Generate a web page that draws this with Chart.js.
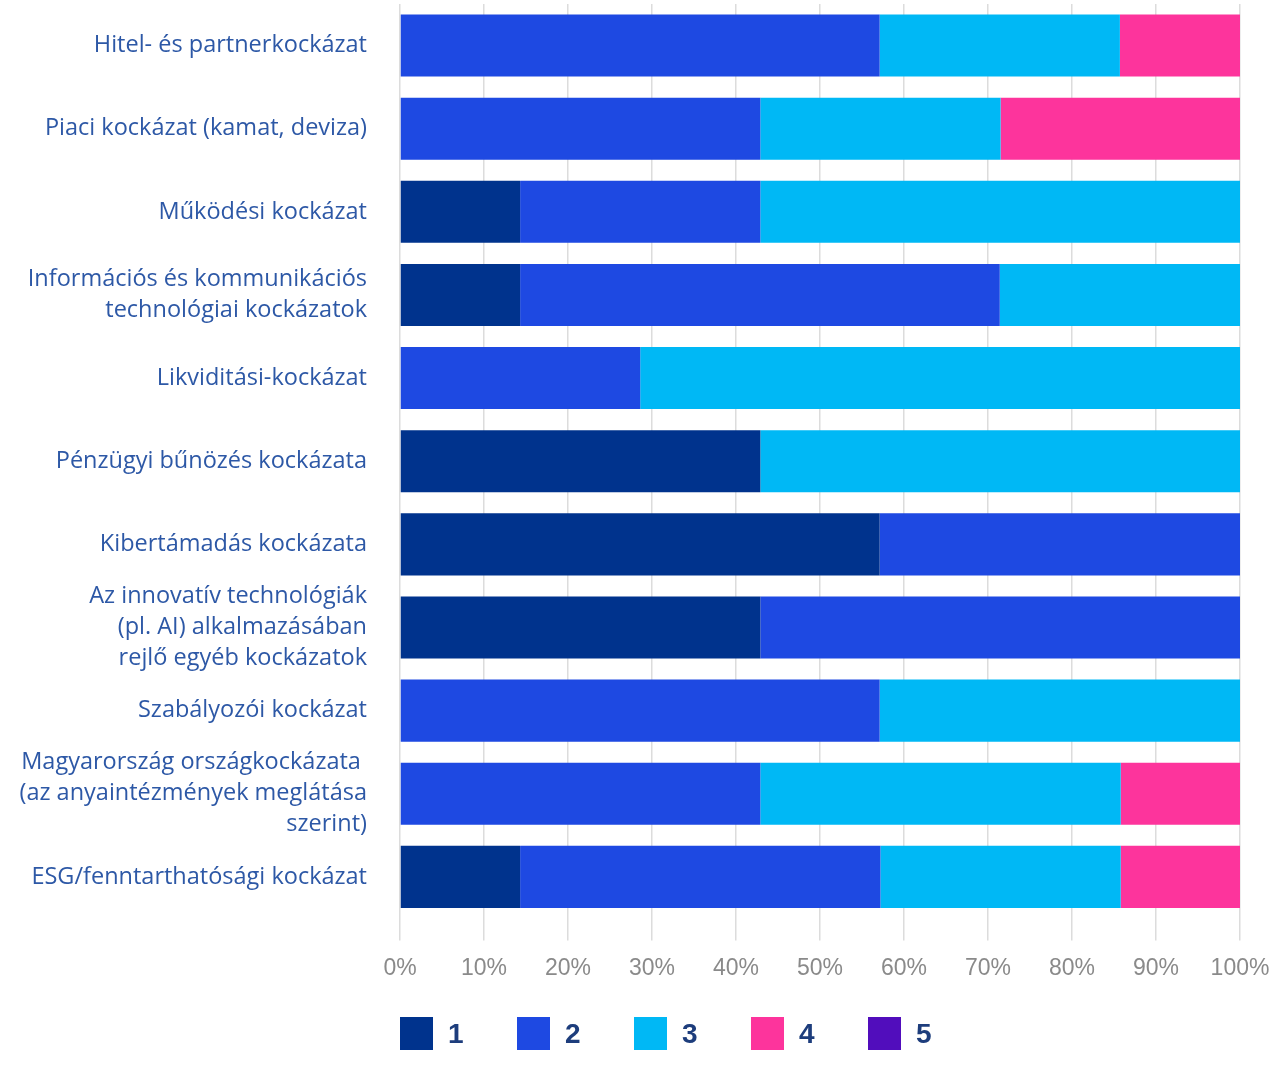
<!DOCTYPE html>
<html>
<head>
<meta charset="utf-8">
<script src="https://cdn.jsdelivr.net/npm/chart.js@4"></script>
<style>
  body { margin: 0; background: #fff; }
  .wrap { position: relative; width: 1280px; height: 1074px; }
  canvas { position: absolute; left: 0; top: 0; }
  .legend { position: absolute; left: 400px; top: 1017px; display: flex; font-family: "Liberation Sans", Arial, sans-serif; }
  .legend .item { display: flex; align-items: center; width: 117px; }
  .legend .box { width: 33px; height: 33px; margin-right: 15px; }
  .legend .txt { font-size: 28px; font-weight: bold; color: #1d3d7c; }
</style>
</head>
<body>
<div class="wrap">
  <canvas id="chart" width="1280" height="1074"></canvas>
  <div class="legend"></div>
</div>
<script>
"use strict";
//---------------- data ----------------
const categories = [
  "Hitel- és partnerkockázat",
  "Piaci kockázat (kamat, deviza)",
  "Működési kockázat",
  ["Információs és kommunikációs", "technológiai kockázatok"],
  "Likviditási-kockázat",
  "Pénzügyi bűnözés kockázata",
  "Kibertámadás kockázata",
  ["Az innovatív technológiák", "(pl. AI) alkalmazásában", "rejlő egyéb kockázatok"],
  "Szabályozói kockázat",
  ["Magyarország országkockázata ", "(az anyaintézmények meglátása", "szerint)"],
  "ESG/fenntarthatósági kockázat"
];
const seriesNames = ["1", "2", "3", "4", "5"];
const seriesColors = ["#00338D", "#1E49E2", "#00B8F5", "#FD349C", "#510DBC"];
const score1 = [0, 0, 14.3, 14.3, 0, 42.9, 57.1, 42.9, 0, 0, 14.3];
const score2 = [57.1, 42.9, 28.6, 57.1, 28.6, 0, 42.9, 57.1, 57.1, 42.9, 42.9];
const score3 = [28.6, 28.6, 57.1, 28.6, 71.4, 57.1, 0, 0, 42.9, 42.9, 28.6];
const score4 = [14.3, 28.6, 0, 0, 0, 0, 0, 0, 0, 14.3, 14.3];
const score5 = [0, 0, 0, 0, 0, 0, 0, 0, 0, 0, 0];
const xTicks = [0, 10, 20, 30, 40, 50, 60, 70, 80, 90, 100];

const allScores = [score1, score2, score3, score4, score5];

//---------------- chart ----------------
let datasets = [];
for (let i = 0; i < seriesNames.length; i++) {
  datasets.push({
    label: seriesNames[i],
    data: allScores[i],
    backgroundColor: seriesColors[i],
    borderWidth: 0,
    barPercentage: 0.747,
    categoryPercentage: 1
  });
}

const ctx = document.getElementById("chart").getContext("2d");
new Chart(ctx, {
  type: "bar",
  data: { labels: categories, datasets: datasets },
  options: {
    indexAxis: "y",
    responsive: false,
    animation: false,
    layout: { padding: { top: 4, right: 40, bottom: 78, left: 0 } },
    plugins: { legend: { display: false }, tooltip: { enabled: false } },
    scales: {
      x: {
        stacked: true,
        min: 0,
        max: 100,
        afterBuildTicks: (scale) => { scale.ticks = xTicks.map(v => ({ value: v })); },
        afterFit: (scale) => {
          scale.paddingLeft = 0;
          scale.paddingRight = 0;
        },
        grid: { color: "#dcdcdc", lineWidth: 1.5, tickLength: 22, tickColor: "#dcdcdc" },
        border: { display: false },
        ticks: {
          color: "#8a8a8a",
          padding: 14,
          maxRotation: 0,
          font: { family: "'Liberation Sans'", size: 23 },
          callback: (v) => v + "%"
        }
      },
      y: {
        stacked: true,
        afterFit: (scale) => {
          scale.width = 400;
          // multi-line labels should not push the plot area in
          scale.paddingTop = 0;
          scale.paddingBottom = 0;
        },
        grid: { display: false, drawTicks: false },
        border: { display: false },
        ticks: {
          autoSkip: false,
          color: "#2d58a6",
          padding: 33,
          font: { family: "'Open Sans'", size: 23.5, lineHeight: 1.32 }
        }
      }
    }
  }
});

//---------------- legend ----------------
let legend = document.querySelector(".legend");
for (let i = 0; i < seriesNames.length; i++) {
  let item = document.createElement("div");
  item.classList.add("item");
  let box = document.createElement("div");
  box.classList.add("box");
  box.style.background = seriesColors[i];
  let txt = document.createElement("div");
  txt.classList.add("txt");
  txt.innerHTML = seriesNames[i];
  item.appendChild(box);
  item.appendChild(txt);
  legend.appendChild(item);
}
</script>
</body>
</html>
